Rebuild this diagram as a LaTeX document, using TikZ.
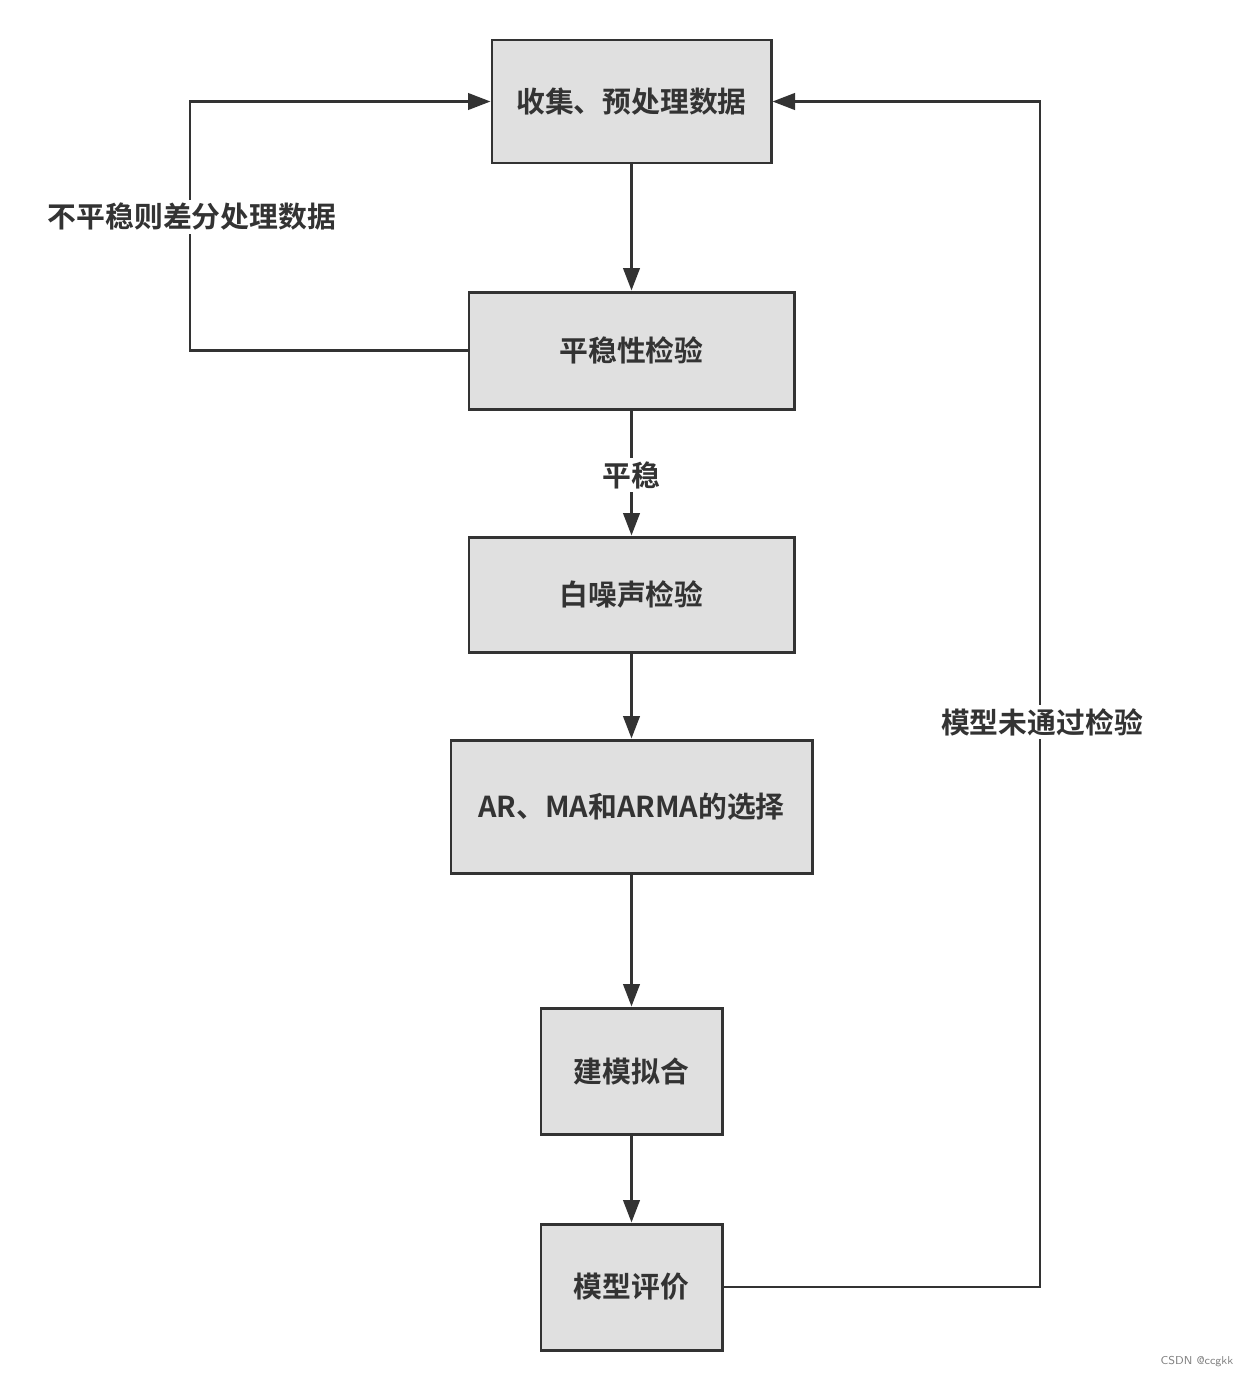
\documentclass[tikz,border=0pt]{standalone}
\usepackage{fontspec}
\newfontfamily\cjk[BoldFont={* Bold}]{Noto Sans CJK SC}
\usetikzlibrary{arrows.meta,positioning}
\definecolor{boxgray}{HTML}{E0E0E0}
\definecolor{inkgray}{HTML}{333333}

\begin{document}
\begin{tikzpicture}[
    stepbox/.style={draw=inkgray, fill=boxgray, line width=1.7pt, inner sep=0pt,
        text=inkgray, font=\cjk\bfseries\fontsize{16.4}{19}\selectfont},
    arr/.style={draw=inkgray, line width=1.5pt, -{Triangle[length=0.45cm,width=0.33cm]}},
    lbl/.style={fill=white, text=inkgray, inner sep=2pt, font=\cjk\bfseries\fontsize{16.4}{19}\selectfont}
]
\useasboundingbox (0,0) rectangle (24.92,-27.56);

\node[stepbox, minimum width=5.58cm, minimum height=2.46cm] (collect) at (12.63,-2.03) {收集、预处理数据};
\node[stepbox, minimum width=6.50cm, minimum height=2.34cm] (stat) at (12.63,-7.01) {平稳性检验};
\node[stepbox, minimum width=6.50cm, minimum height=2.30cm] (noise) at (12.63,-11.89) {白噪声检验};
\node[stepbox, minimum width=7.22cm, minimum height=2.66cm] (select) at (12.63,-16.13) {AR、MA和ARMA的选择};
\node[stepbox, minimum width=3.62cm, minimum height=2.52cm] (fit) at (12.63,-21.42) {建模拟合};
\node[stepbox, minimum width=3.62cm, minimum height=2.52cm] (eval) at (12.63,-25.74) {模型评价};

\coordinate (leftbend) at (3.80,-7.01);
\coordinate (rightbend) at (20.80,-25.74);

\draw[arr] (collect) -- (stat);
\draw[arr] (stat) -- (noise);
\draw[arr] (noise) -- (select);
\draw[arr] (select) -- (fit);
\draw[arr] (fit) -- (eval);
\draw[arr] (stat.west) -- (leftbend) |- (collect.west);
\draw[arr] (eval.east) -- (rightbend) |- (collect.east);

\node[lbl] (stable) at (12.63,-9.50) {平稳};
\node[lbl] (diff) at (3.84,-4.34) {不平稳则差分处理数据};
\node[lbl] (fail) at (20.84,-14.44) {模型未通过检验};

\node[text=gray, font=\sffamily\fontsize{6.5}{8}\selectfont] (mark) at (23.94,-27.24) {CSDN @ccgkk};
\end{tikzpicture}
\end{document}
